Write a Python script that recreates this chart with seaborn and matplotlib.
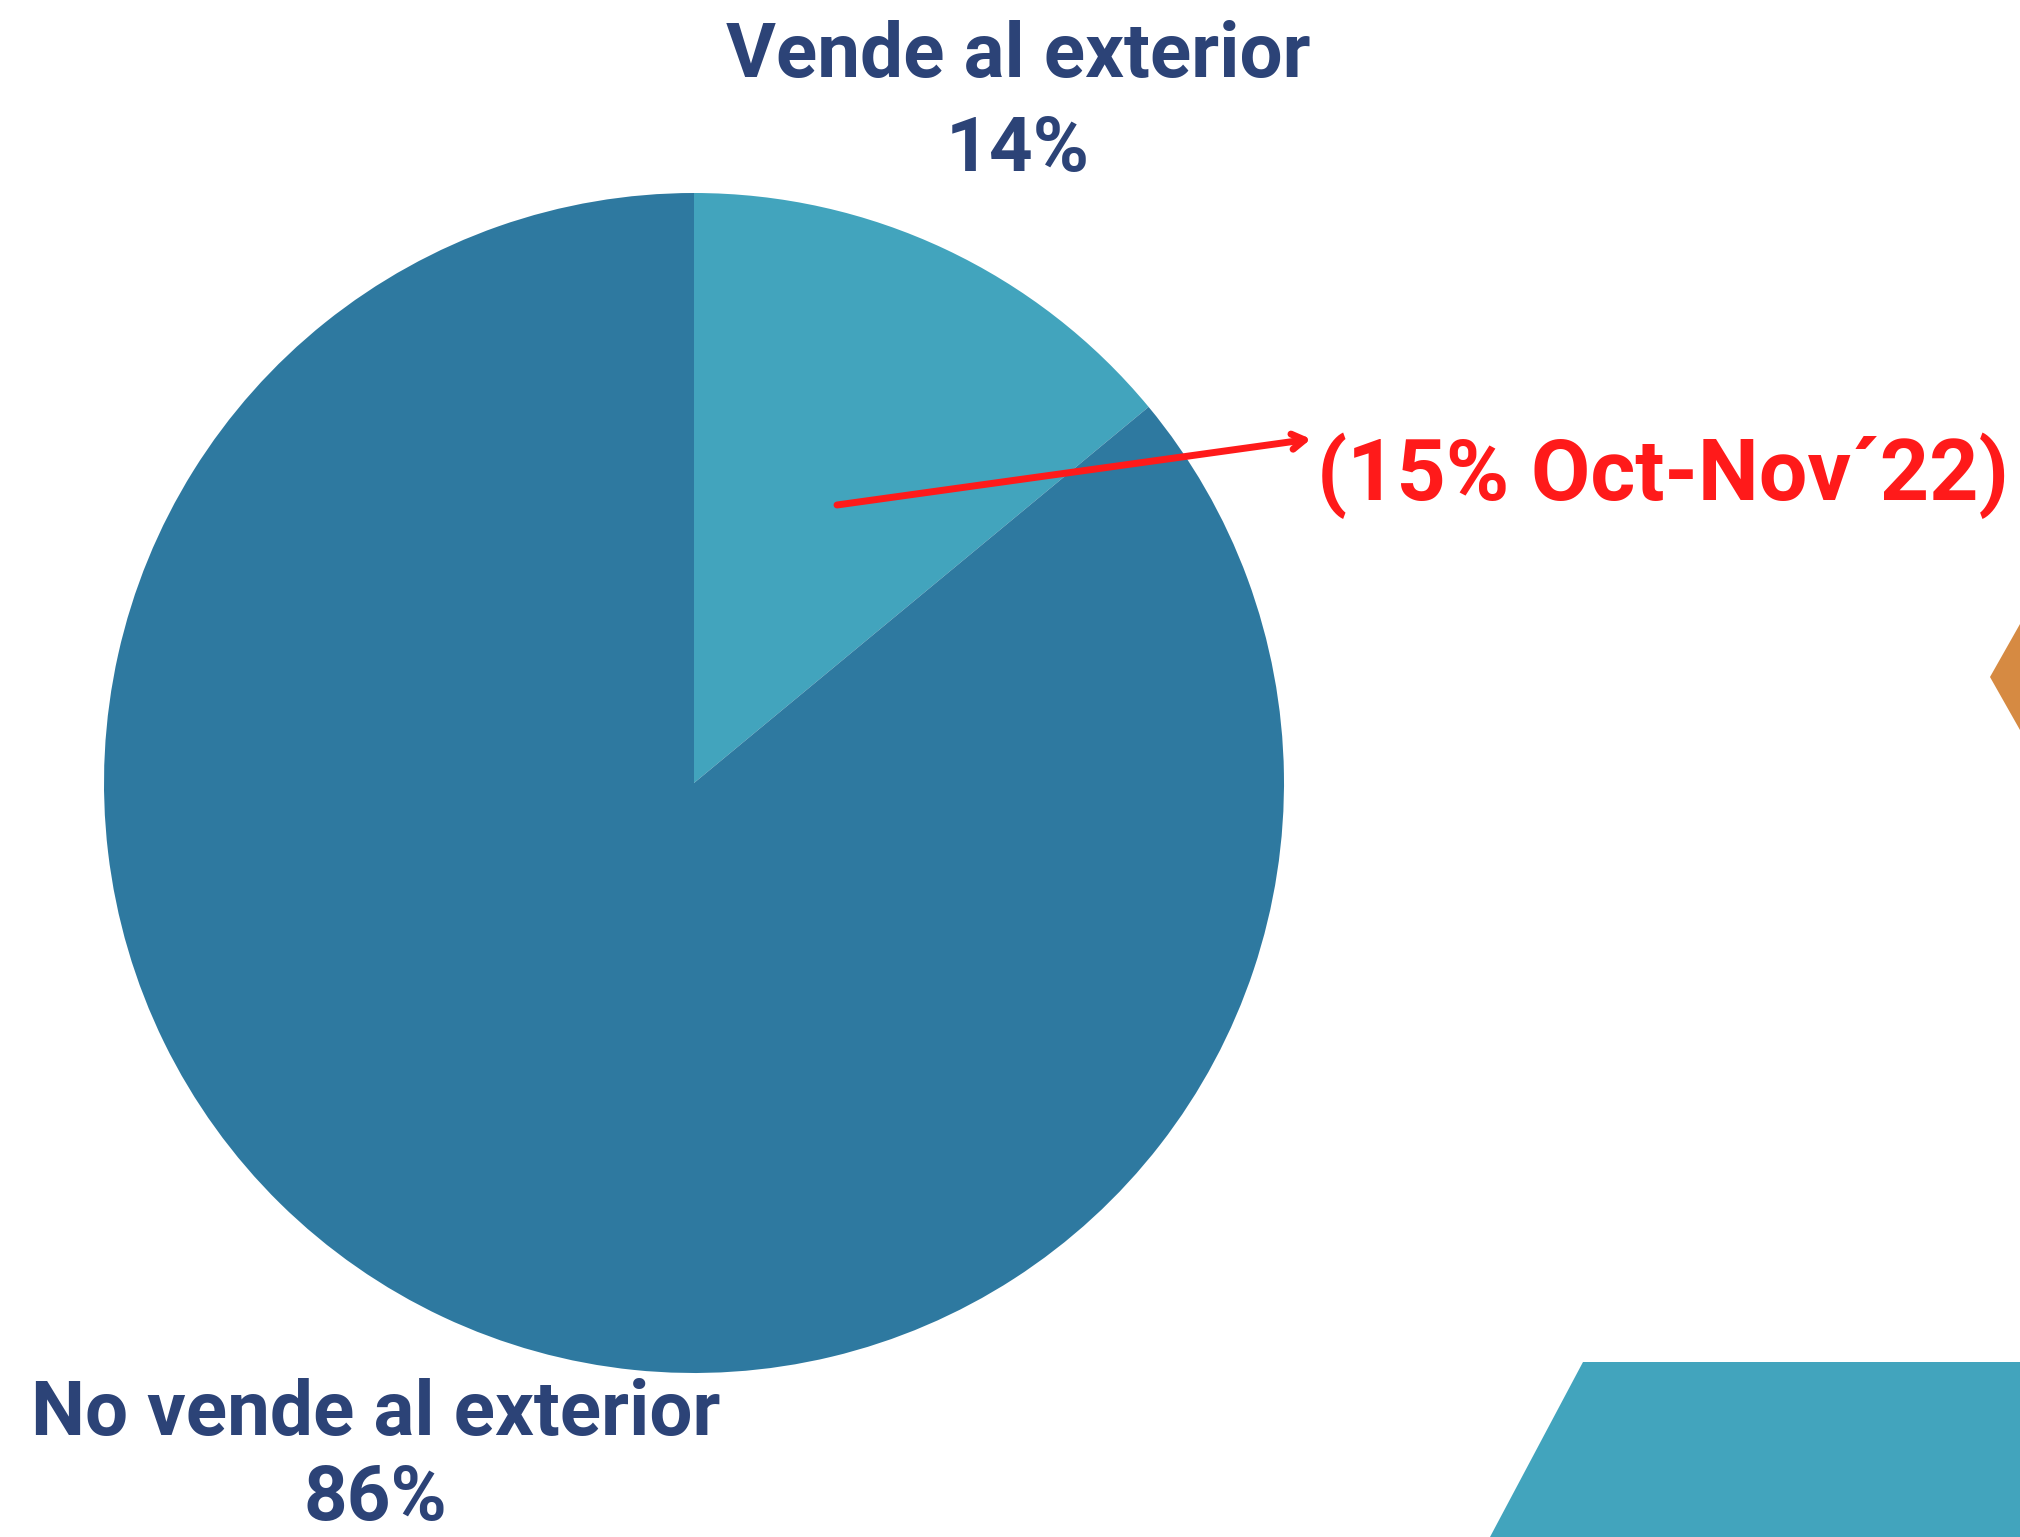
import matplotlib
matplotlib.use("Agg")
import matplotlib.pyplot as plt
from matplotlib.patches import Polygon
import seaborn as sns

labels = ["Vende al exterior", "No vende al exterior"]
shares = [14, 86]
prior_share = 15
prior_period = "Oct-Nov´22"

sns.set_style("white")
fonts = ["Roboto", "DejaVu Sans"]
plt.rcParams["font.family"] = fonts

W, H = 2020, 1537
fig = plt.figure(figsize=(W / 100, H / 100), dpi=100)
ax = fig.add_axes([0, 0, 1, 1])

def y(p):
    return H - p

colors = ["#42A4BD", "#2E79A0"]
ax.pie(shares, colors=colors, startangle=90, counterclock=False,
       center=(694, y(783)), radius=590, frame=True,
       wedgeprops=dict(linewidth=0))
ax.set_xlim(0, W)
ax.set_ylim(0, H)
ax.set_aspect("equal")
ax.axis("off")

blue = "#2C4377"
ax.text(1018, y(56), labels[0], ha="center", va="center", fontsize=55,
        fontweight="bold", color=blue)
ax.text(1018, y(150), f"{shares[0]}%", ha="center", va="center", fontsize=55,
        fontweight="bold", color=blue)
ax.text(31, y(1415), labels[1], ha="left", va="center", fontsize=55,
        fontweight="bold", color=blue)
ax.text(375, y(1536), f"{shares[1]}%", ha="center", va="bottom", fontsize=55,
        fontweight="bold", color=blue)

red = "#FF1A1A"
ax.text(1317, y(476), f"({prior_share}% {prior_period})", ha="left", va="center",
        fontsize=62, fontweight="bold", color=red)
ax.annotate("", xy=(1311, y(439)), xytext=(837, y(505)),
            arrowprops=dict(arrowstyle="->,head_length=0.9,head_width=0.55",
                            color=red, lw=5, shrinkA=0, shrinkB=0))

# decorative shapes
ax.add_patch(Polygon([(1990, y(677)), (2020, y(624)), (2020, y(730))],
                     closed=True, color="#D68A42", lw=0))
ax.add_patch(Polygon([(1583, y(1362)), (2020, y(1362)), (2020, y(1537)), (1490, y(1537))],
                     closed=True, color="#42A4BD", lw=0))

fig.savefig("out.png", dpi=100)
